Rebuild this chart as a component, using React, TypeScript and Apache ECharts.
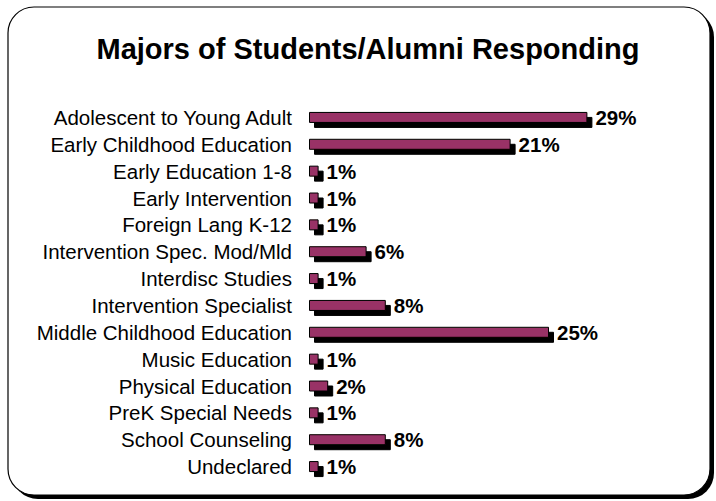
import React, { useEffect, useRef } from "react";
import * as echarts from "echarts";

const categories = [
  "Adolescent to Young Adult",
  "Early Childhood Education",
  "Early Education 1-8",
  "Early Intervention",
  "Foreign Lang K-12",
  "Intervention Spec. Mod/Mld",
  "Interdisc Studies",
  "Intervention Specialist",
  "Middle Childhood Education",
  "Music Education",
  "Physical Education",
  "PreK Special Needs",
  "School Counseling",
  "Undeclared",
];

const percents = [29, 21, 1, 1, 1, 6, 1, 8, 25, 1, 2, 1, 8, 1];

const titleText = "Majors of Students/Alumni Responding";

export default function App() {
  const ref = useRef<HTMLDivElement>(null);
  useEffect(() => {
    if (!ref.current) return;
    const chart = echarts.init(ref.current, null, { renderer: "svg" });
    chart.setOption({
      animation: false,
      backgroundColor: "#ffffff",
      graphic: [
        {
          type: "rect",
          z: -20,
          silent: true,
          shape: { x: 12, y: 11, width: 702, height: 488, r: 26 },
          style: { fill: "#000000" },
        },
        {
          type: "rect",
          z: -10,
          silent: true,
          shape: { x: 8, y: 7, width: 702, height: 488, r: 26 },
          style: { fill: "#ffffff", stroke: "#000000", lineWidth: 1.2 },
        },
      ],
      title: {
        text: titleText,
        left: 363,
        top: 29,
        textAlign: "center",
        z: 10,
        textStyle: {
          fontFamily: "Arial, 'Liberation Sans', sans-serif",
          fontWeight: "bold",
          fontSize: 29,
          color: "#000000",
        },
      },
      grid: { left: 309, top: 104, width: 336, height: 376, containLabel: false },
      xAxis: {
        type: "value",
        min: 0,
        max: 35,
        show: false,
      },
      yAxis: {
        type: "category",
        inverse: true,
        data: categories,
        z: 10,
        axisLine: { show: false },
        axisTick: { show: false },
        splitLine: { show: false },
        axisLabel: {
          margin: 17,
          interval: 0,
          fontFamily: "Arial, 'Liberation Sans', sans-serif",
          fontSize: 20.5,
          color: "#000000",
        },
      },
      series: [
        {
          type: "bar",
          z: 10,
          data: percents,
          barWidth: 11,
          itemStyle: {
            color: "#993366",
            borderColor: "#000000",
            borderWidth: 1,
            shadowColor: "#000000",
            shadowBlur: 0,
            shadowOffsetX: 5,
            shadowOffsetY: 5,
          },
          label: {
            show: true,
            position: "right",
            distance: 8,
            formatter: "{c}%",
            fontFamily: "Arial, 'Liberation Sans', sans-serif",
            fontWeight: "bold",
            fontSize: 20.5,
            color: "#000000",
          },
        },
      ],
    });
    return () => chart.dispose();
  }, []);
  return (
    <div
      ref={ref}
      style={{ position: "fixed", left: 0, top: 0, width: 716, height: 501 }}
    />
  );
}
